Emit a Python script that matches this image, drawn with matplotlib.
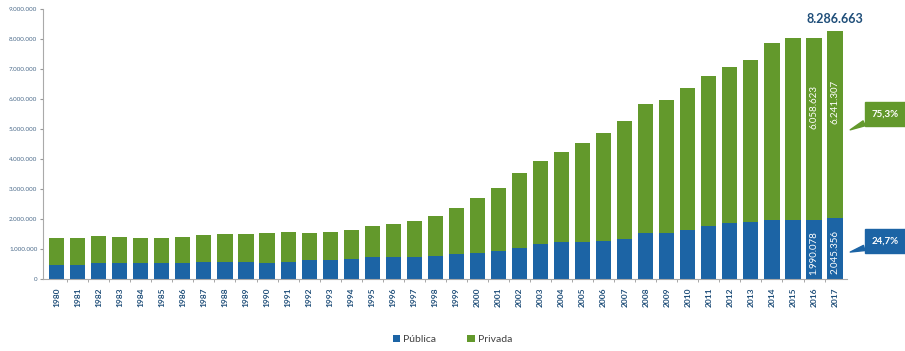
import numpy as np
import matplotlib
matplotlib.use("Agg")
import matplotlib.pyplot as plt
from matplotlib.ticker import FuncFormatter, MultipleLocator

plt.rcParams["font.family"] = ["Lato", "DejaVu Sans"]

years = list(range(1980, 2018))
publica = [467000, 490000, 543000, 530000, 530000, 530000, 530000, 587000, 587000, 587000,
           530000, 587000, 633000, 633000, 677000, 743000, 743000, 743000, 787000, 833000,
           877000, 953000, 1053000, 1187000, 1233000, 1233000, 1267000, 1333000, 1543000, 1543000,
           1643000, 1767000, 1887000, 1920000, 1977000, 1977000, 1990078, 2045356]
total = [1366000, 1366000, 1433000, 1420000, 1367000, 1367000, 1420000, 1477000, 1520000, 1520000,
         1543000, 1567000, 1543000, 1567000, 1653000, 1787000, 1843000, 1933000, 2120000, 2367000,
         2710000, 3043000, 3543000, 3953000, 4243000, 4553000, 4867000, 5287000, 5843000, 5977000,
         6387000, 6767000, 7087000, 7310000, 7867000, 8053000, 8048701, 8286663]
privada = [t - p for t, p in zip(total, publica)]
share_labels = ["24,7%", "75,3%"]

blue = "#1c64a5"
green = "#63992c"
navy = "#1f4e79"

fig = plt.figure(figsize=(9.05, 3.51), dpi=100)
ax = fig.add_axes([0.0475, 0.204, 0.888, 0.770])

x = np.arange(len(years))
ax.bar(x, publica, width=0.72, color=blue, label="Pública")
ax.bar(x, privada, width=0.72, bottom=publica, color=green, label="Privada")

ax.set_xlim(-0.65, len(years) - 0.45)
ax.set_ylim(0, 9000000)
ax.yaxis.set_major_locator(MultipleLocator(1000000))
ax.yaxis.set_major_formatter(FuncFormatter(lambda v, _: f"{int(v):,}".replace(",", ".")))
ax.tick_params(axis="y", labelsize=4.5, labelcolor="#4a6a8a", length=2, color="#999999", pad=2)

ax.set_xticks(x)
ax.set_xticklabels([str(y) for y in years], rotation=90, fontsize=6, fontweight="bold", color=navy)
ax.set_xticks(x[:-1] + 0.5, minor=True)
ax.tick_params(axis="x", which="major", length=0, pad=6)
ax.tick_params(axis="x", which="minor", length=2, color="#999999")

for s in ["top", "right"]:
    ax.spines[s].set_visible(False)
for s in ["left", "bottom"]:
    ax.spines[s].set_color("#aaaaaa")
    ax.spines[s].set_linewidth(0.8)

# values inside the last two bars
for i in (len(years) - 2, len(years) - 1):
    ax.text(x[i], publica[i] / 2 - 120000, f"{publica[i]:,}".replace(",", "."), rotation=90,
            ha="center", va="center", color="white", fontsize=7)
    ax.text(x[i], publica[i] + privada[i] * 0.62, f"{privada[i]:,}".replace(",", "."), rotation=90,
            ha="center", va="center", color="white", fontsize=7)

ax.text(x[-1], total[-1] + 180000, f"{total[-1]:,}".replace(",", "."), ha="center", va="bottom",
        fontsize=9, fontweight="bold", color=navy)

# callouts
for label, tip_y, text_y, col in [(share_labels[1], 4980000, 5510000, green),
                                  (share_labels[0], 910000, 1280000, blue)]:
    ax.annotate(label, xy=(x[-1] + 0.72, tip_y), xytext=(x[-1] + 2.4, text_y),
                ha="center", va="center", color="white", fontsize=7, fontweight="bold",
                bbox=dict(boxstyle="square,pad=0.75", fc=col, ec=col),
                arrowprops=dict(arrowstyle="wedge,tail_width=0.55,shrink_factor=0.5", fc=col, ec=col,
                                relpos=(0.2, 0.15), shrinkA=0, shrinkB=0),
                annotation_clip=False)

fig.legend(loc="center", bbox_to_anchor=(0.5, 0.032), ncol=2, frameon=False, fontsize=7.5,
           handlelength=0.7, handleheight=0.7, handletextpad=0.3, columnspacing=3.0,
           labelcolor="#404040")

fig.savefig("out.png", dpi=100)
